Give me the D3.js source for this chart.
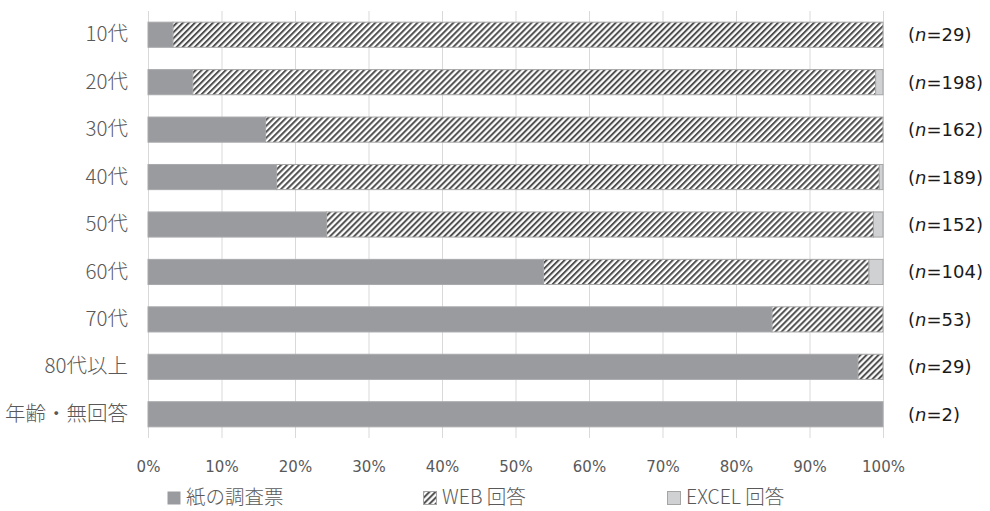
<!DOCTYPE html>
<html>
<head>
<meta charset="utf-8">
<script src="https://cdn.jsdelivr.net/npm/d3@7"></script>
<style>
  html, body { margin: 0; padding: 0; background: #fff; }
  svg { display: block; font-family: "Noto Sans CJK JP", "Noto Sans", sans-serif; }
</style>
</head>
<body>
<svg id="chart" width="990" height="511"></svg>
<script>
// Response method by age group (percent of respondents)
const categories = ["10代", "20代", "30代", "40代", "50代", "60代", "70代", "80代以上", "年齢・無回答"];
const counts = [29, 198, 162, 189, 152, 104, 53, 29, 2];
const paper = [3.4, 6.1, 16.0, 17.5, 24.3, 53.8, 84.9, 96.6, 100];
const web   = [96.6, 92.9, 84.0, 82.0, 74.4, 44.3, 15.1, 3.4, 0];
const excel = [0, 1.0, 0, 0.5, 1.3, 1.9, 0, 0, 0];
const seriesNames = ["紙の調査票", "WEB 回答", "EXCEL 回答"];
const xTicks = [0, 10, 20, 30, 40, 50, 60, 70, 80, 90, 100];

const svg = d3.select("#chart");
const plotLeft = 148, plotRight = 883, plotTop = 11, plotBottom = 438;
const jpFont = "'Noto Sans CJK JP', sans-serif";
const latinFont = "'DejaVu Sans', sans-serif";

const x = d3.scaleLinear().domain([0, 100]).range([plotLeft, plotRight]);
const y = d3.scaleBand().domain(categories).range([plotTop, plotBottom]).paddingInner(0.47).paddingOuter(0.235);

// hatch pattern for WEB responses
const defs = svg.append("defs");
const hp = 4.25;
const pat = defs.append("pattern")
  .attr("id", "hatch").attr("patternUnits", "userSpaceOnUse")
  .attr("width", hp).attr("height", hp)
  .attr("patternTransform", "rotate(45)");
pat.append("rect").attr("width", hp).attr("height", hp).attr("fill", "#fff");
pat.append("rect").attr("x", 0).attr("width", 2).attr("height", hp).attr("fill", "#505050");

// vertical gridlines
svg.append("g").selectAll("line").data(xTicks).join("line")
  .attr("x1", d => x(d) + 0.5).attr("x2", d => x(d) + 0.5)
  .attr("y1", plotTop).attr("y2", plotBottom)
  .attr("stroke", "#d9d9d9").attr("stroke-width", 1);

// stacked bars
const rows = categories.map((c, i) => ({ c, vals: [paper[i], web[i], excel[i]] }));
const fills = ["#9a9b9f", "url(#hatch)", "#d0d1d3"];
const strokes = ["#a9aaad", "#a5a5a5", "#a5a5a5"];
const g = svg.append("g");
rows.forEach(r => {
  let acc = 0;
  r.vals.forEach((v, k) => {
    if (v > 0) {
      g.append("rect")
        .attr("x", x(acc)).attr("width", x(acc + v) - x(acc))
        .attr("y", y(r.c)).attr("height", y.bandwidth())
        .attr("fill", fills[k]).attr("stroke", strokes[k]).attr("stroke-width", 1);
    }
    acc += v;
  });
});

// x axis labels
const xAxis = d3.axisBottom(x).tickValues(xTicks).tickFormat(d => d + "%").tickSize(0).tickPadding(0);
const ax = svg.append("g").attr("transform", `translate(0,${plotBottom + 29})`).call(xAxis);
ax.select(".domain").remove();
ax.selectAll("text").attr("fill", "#595959").attr("font-size", 15).attr("dy", "0.35em")
  .attr("font-family", latinFont);

// category labels
const yAxis = d3.axisLeft(y).tickSize(0).tickPadding(0);
const ay = svg.append("g").attr("transform", `translate(${plotLeft - 20},0)`).call(yAxis);
ay.select(".domain").remove();
ay.selectAll("text").attr("fill", "#595959").attr("font-size", 20.5)
  .attr("font-weight", 300)
  .attr("font-family", jpFont);

// sample size labels
const nLab = svg.append("g").selectAll("text").data(categories).join("text")
  .attr("x", 908).attr("y", d => y(d) + y.bandwidth() / 2).attr("dy", "0.36em")
  .attr("fill", "#1a1a1a").attr("font-size", 18)
  .attr("font-family", latinFont);
nLab.each(function(d, i) {
  const t = d3.select(this);
  t.append("tspan").text("(");
  t.append("tspan").attr("font-style", "italic").text("n");
  t.append("tspan").text("=" + counts[i] + ")");
});

// legend
const legX = [167, 423, 667];
const leg = svg.append("g").selectAll("g").data(seriesNames).join("g")
  .attr("transform", (d, i) => `translate(${legX[i]},497)`);
leg.append("rect").attr("x", 0.5).attr("y", -5.5).attr("width", 13).attr("height", 13)
  .attr("fill", (d, i) => fills[i]).attr("stroke", (d, i) => i === 0 ? "none" : "#a5a5a5");
leg.append("text").attr("x", 19).attr("y", 0).attr("dy", "0.35em")
  .attr("fill", "#595959").attr("font-size", 19.5)
  .attr("font-weight", 300)
  .attr("font-family", jpFont)
  .text(d => d);
</script>
</body>
</html>
